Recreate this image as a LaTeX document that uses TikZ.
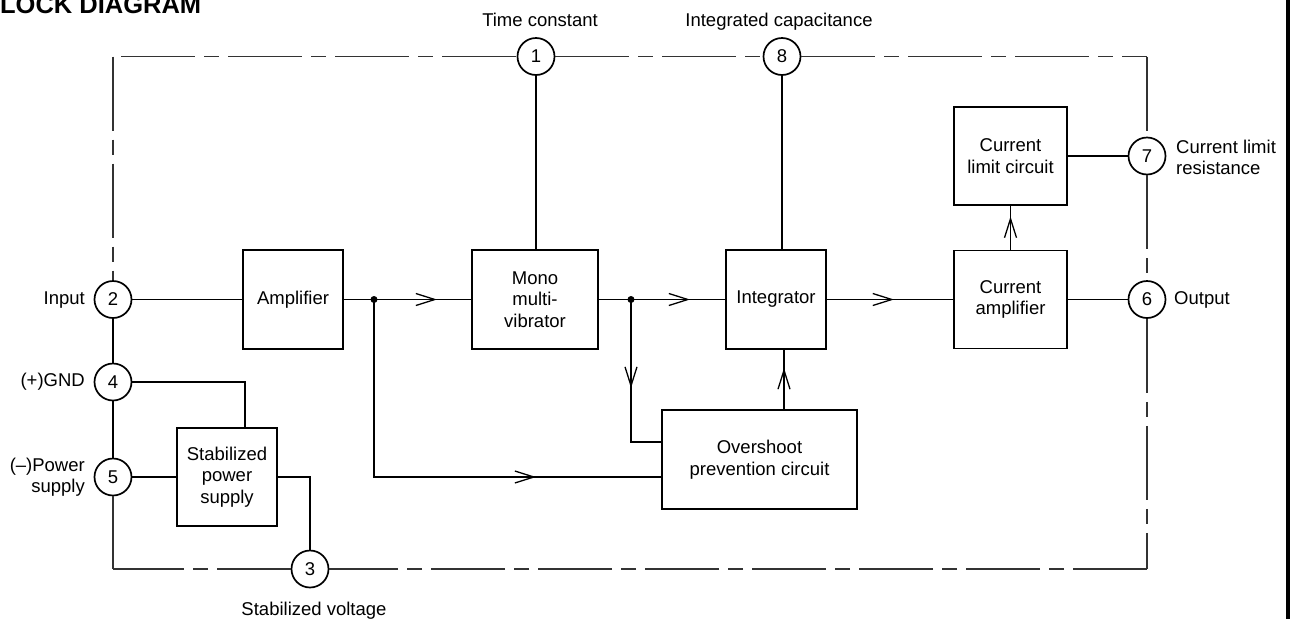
\documentclass[tikz,border=0pt]{standalone}
\usepackage{fontspec}
\setmainfont{Liberation Sans}
\usetikzlibrary{arrows.meta,decorations.markings}
\begin{document}
\begin{tikzpicture}[x=1pt,y=-1pt,
  txt/.style={font=\fontsize{18.5}{21.5}\selectfont, inner sep=0pt},
  blk/.style={draw, line width=1.9pt, inner sep=0pt, align=center, font=\fontsize{18.5}{21.5}\selectfont},
  pincirc/.style={draw, circle, line width=1.7pt, minimum size=37pt, inner sep=0pt, font=\fontsize{18.5}{21.5}\selectfont},
  conn/.style={line width=1.3pt},
  dashframe/.style={line width=1.4pt, black!80, dash pattern=on 74pt off 9pt on 15pt off 9pt},
  arrowat/.style={postaction={decorate,decoration={markings,mark=at position #1 with {\arrow[line width=1.3pt]{Straight Barb[length=19pt,width=12pt]}}}}},
  jdot/.style={circle, fill, inner sep=0pt, minimum size=7pt}]
\useasboundingbox (0,0) rectangle (1292,619);

% title (cut at top and left edges) and right border
\node[anchor=base west, inner sep=0pt, font=\bfseries\fontsize{25.5}{30}\selectfont] (title) at (-18.5,13) {BLOCK DIAGRAM};
\draw[line width=3.5pt] (1288,0) -- (1288,619);

% pins
\node[pincirc] (c1) at (536,56.5) {1};
\node[pincirc] (c8) at (782,56.5) {8};
\node[pincirc] (c7) at (1147,156) {7};
\node[pincirc] (c6) at (1147,299.5) {6};
\node[pincirc] (c2) at (113,299.5) {2};
\node[pincirc] (c4) at (113,382) {4};
\node[pincirc] (c5) at (113,477) {5};
\node[pincirc] (c3) at (310,569) {3};

% pin labels
\node[txt] (l1) at (540,20) {Time constant};
\node[txt] (l8) at (779,22) {Integrated capacitance};
\node[txt, anchor=west, align=left] (l7) at (1176,157.5) {Current limit\\resistance};
\node[txt, anchor=west] (l6) at (1174,300) {Output};
\node[txt, anchor=east] (l2) at (85,300) {Input};
\node[txt, anchor=east] (l4) at (85,382) {(+)GND};
\node[txt, anchor=east, align=right] (l5) at (85,477) {(--)Power\\supply};
\node[txt] (l3) at (314,611) {Stabilized voltage};

% blocks
\node[blk, minimum width=100pt, minimum height=99pt] (amp) at (293,299.5) {Amplifier};
\node[blk, minimum width=126pt, minimum height=99pt] (mono) at (535,299.5) {Mono\\multi-\\vibrator};
\node[blk, minimum width=100pt, minimum height=99pt] (integ) at (776,299.5) {Integrator};
\node[blk, minimum width=113pt, minimum height=98pt] (camp) at (1010.5,299.5) {Current\\amplifier};
\node[blk, minimum width=113pt, minimum height=98pt] (climit) at (1010.5,156) {Current\\limit circuit};
\node[blk, minimum width=195pt, minimum height=99pt] (over) at (759.5,459.5) {Overshoot\\prevention circuit};
\node[blk, minimum width=100pt, minimum height=98pt] (stab) at (227,477) {Stabilized\\power\\supply};

% junctions
\node[jdot] (d1) at (374,299.5) {};
\node[jdot] (d2) at (631,299.5) {};
\coordinate (j1) at (over.west |- 0,477);
\coordinate (j2) at (over.west |- 0,442);
\coordinate (u1) at (784,410);

% dashed outline
\coordinate (TL) at (113,56.5);
\coordinate (TR) at (1147,56.5);
\coordinate (BR) at (1147,569);
\coordinate (BL) at (113,569);
\draw[dashframe] (TL) -- (c2.north);
\draw[dashframe] ([xshift=8pt]TL) -- (c1.west);
\draw[dashframe] (c1.east) -- (c8.west);
\draw[dashframe] (c8.east) -- (TR);
\draw[dashframe] (TR) -- (c7.north);
\draw[dashframe] (c7.south) -- (c6.north);
\draw[dashframe] (c6.south) -- (BR);
\draw[dashframe] (BR) -- (c3.east);
\draw[dashframe] (c3.west) -- (BL);
\draw[dashframe] (BL) -- (c5.south);

% connectors
\draw[conn] (c2.east) -- (amp.west);
\draw[conn] (amp.east) -- (d1.center);
\draw[conn, arrowat=63pt] (d1.center) -- (mono.west);
\draw[conn] (mono.east) -- (d2.center);
\draw[conn, arrowat=59pt] (d2.center) -- (integ.west);
\draw[conn, arrowat=67pt] (integ.east) -- (camp.west);
\draw[conn] (camp.east) -- (c6.west);
\draw[conn] (c1.south) -- (c1.south |- mono.north);
\draw[conn] (c8.south) -- (c8.south |- integ.north);
\draw[conn, arrowat=88.5pt] (d2.center) |- (j2);
\draw[conn, arrowat=339.5pt] (d1.center) |- (j1);
\draw[conn, arrowat=42pt] (u1) -- (u1 |- integ.south);
\draw[conn, arrowat=33pt] (camp.north) -- (climit.south);
\draw[conn] (climit.east) -- (c7.west);
\draw[conn] (c2.south) -- (c4.north);
\draw[conn] (c4.south) -- (c5.north);
\draw[conn] (c4.east) -| ([xshift=18pt]stab.north);
\draw[conn] (c5.east) -- (stab.west);
\draw[conn] (stab.east) -| (c3.north);
\end{tikzpicture}
\end{document}
